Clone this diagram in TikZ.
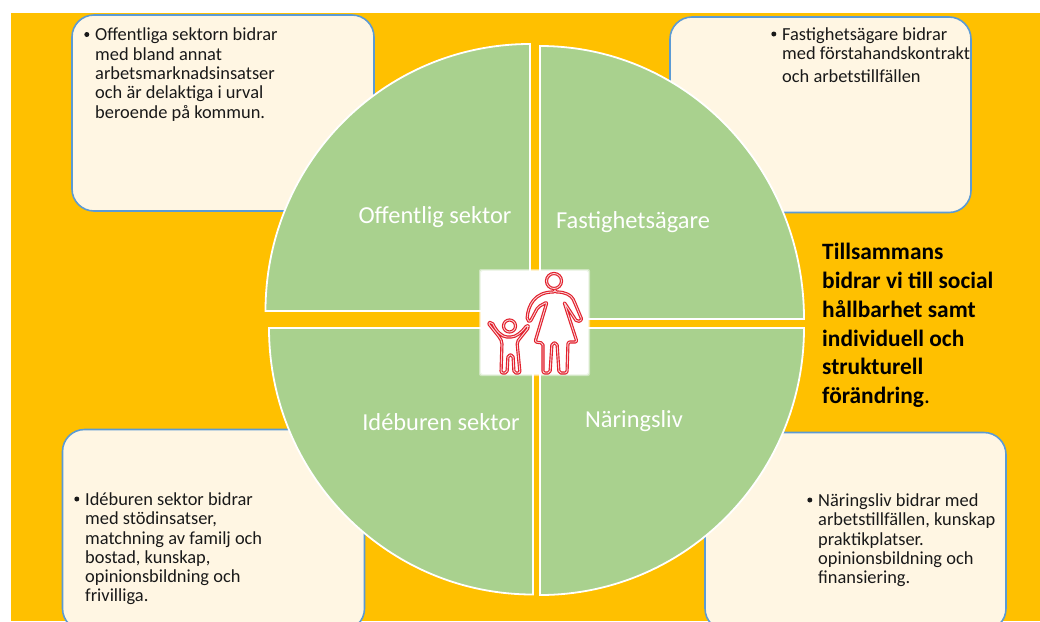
\documentclass[tikz,border=0pt]{standalone}
\usepackage{fontspec}
\setmainfont{Carlito}
\usepackage{xcolor}
\usetikzlibrary{positioning}
\definecolor{bgorange}{HTML}{FFC000}
\definecolor{boxcream}{HTML}{FFF6E3}
\definecolor{boxblue}{HTML}{5B9BD5}
\definecolor{piegreen}{HTML}{A9D18E}
\definecolor{figred}{HTML}{E2202C}

\begin{document}
\begin{tikzpicture}[
  x=1pt, y=-1pt,
  infobox/.style={rectangle, draw=boxblue, line width=1.6pt, fill=boxcream, rounded corners=22pt, anchor=north west, inner sep=0pt, outer sep=0pt},
  quarter/.style={fill=piegreen, draw=white, line width=1.8pt},
  sectorlabel/.style={font=\fontsize{24.4}{29}\selectfont, text=white},
  bodytext/.style={font=\fontsize{18.4}{19.3}\selectfont, text=black!90, align=left, anchor=north west, inner sep=0pt},
  dotmark/.style={circle, fill=black!90, inner sep=0pt, minimum size=5pt},
  figline/.style={draw=figred, line width=3.2pt, line join=round, line cap=round, rounded corners=2pt},
  figinner/.style={draw=white!80!figred, line width=0.9pt, line join=round, line cap=round, rounded corners=2pt}
]
\useasboundingbox (0,0) rectangle (1040,621);

% Background
\path[fill=white] (0,0) rectangle (1040,621);
\path[fill=bgorange] (11,13) rectangle (1040,621);

% Text boxes
\begin{scope}
\clip (0,0) rectangle (1040,621);
\node[infobox, minimum width=302pt, minimum height=196pt] (boxpublic) at (72,15) {};
\node[infobox, minimum width=301pt, minimum height=195.5pt] (boxowner) at (670,17) {};
\node[infobox, minimum width=302pt, minimum height=201pt] (boxcivil) at (62.5,429.5) {};
\node[infobox, minimum width=301pt, minimum height=198pt] (boxbusiness) at (705,432.5) {};
\end{scope}

% Quarter circles
\draw[quarter] (530,311) -- (530,44) .. controls (384,44) and (265.5,163) .. (265.5,311) -- cycle;
\draw[quarter] (540,319) -- (804,319) .. controls (804,168) and (686,46) .. (540,46) -- cycle;
\draw[quarter] (533,328) -- (269,328) .. controls (269,475) and (387,594.5) .. (533,594.5) -- cycle;
\draw[quarter] (540,328) -- (540,595) .. controls (686,595) and (804,475) .. (804,328) -- cycle;

% Sector labels
\node[sectorlabel] (public) at (435,217) {Offentlig sektor};
\node[sectorlabel] (owner) at (633,222) {Fastighetsägare};
\node[sectorlabel] (civil) at (441,422) {Idéburen sektor};
\node[sectorlabel] (business) at (634,421) {Näringsliv};

% Picture in the centre
\foreach \g/\o in {0/0.45, 1/0.65, 2/1}{
  \path[fill=white, fill opacity=\o, rounded corners=2pt] (479+\g,269+\g) rectangle (590-\g,376-\g);
}
\foreach \l in {figline, figinner}{
  % woman
  \draw[\l] (554,281) circle[radius=7.5];
  \draw[\l] (555,292) .. controls (565,292) and (571,295) .. (574,301) -- (582,320) -- (577,322) -- (564,302)
    -- (577,342) -- (568,342) -- (567,373) -- (559,373) -- (557,343) -- (552,343) -- (550,373) -- (543,373) -- (543,343) -- (535,342)
    -- (547,302) -- (538,307) -- (530,322) -- (527,320) .. controls (528,305) and (535,292) .. (555,292) -- cycle;
  % child
  \draw[\l] (509.5,326) circle[radius=6];
  \draw[\l] (488,323) -- (500,338) -- (502,342) -- (501,373) -- (507,373) -- (508,355) -- (513,355) -- (514,373) -- (520,373) -- (517,342)
    -- (529,327) -- (527,325) .. controls (522,332) and (516,337) .. (509,337) .. controls (502,337) and (496,331) .. (492,322) -- cycle;
}

% Side text
\node[font=\fontsize{23.4}{28.8}\selectfont\bfseries, align=left, anchor=north west, inner sep=0pt] (summary) at (822,243) {Tillsammans\\bidrar vi till social\\hållbarhet samt\\individuell och\\strukturell\\förändring\textmd{.}};

% Box texts
\node[bodytext] (textpublic) at (95,28) {Offentliga sektorn bidrar\\med bland annat\\arbetsmarknadsinsatser\\och är delaktiga i urval\\beroende på kommun.};
\node[dotmark, left=5.5pt of textpublic.north west, yshift=-6.5pt] (dotpublic) {};
\node[bodytext] (textowner) at (782,27.5) {Fastighetsägare bidrar\\med förstahandskontrakt\\[3.6pt]och arbetstillfällen};
\node[dotmark, left=5.5pt of textowner.north west, yshift=-6.5pt] (dotowner) {};
\node[bodytext] (textcivil) at (85,492.5) {Idéburen sektor bidrar\\med stödinsatser,\\matchning av familj och\\bostad, kunskap,\\opinionsbildning och\\frivilliga.};
\node[dotmark, left=5.5pt of textcivil.north west, yshift=-6.5pt] (dotcivil) {};
\node[bodytext] (textbusiness) at (818,493.5) {Näringsliv bidrar med\\arbetstillfällen, kunskap\\praktikplatser.\\opinionsbildning och\\finansiering.};
\node[dotmark, left=5.5pt of textbusiness.north west, yshift=-6.5pt] (dotbusiness) {};

\end{tikzpicture}
\end{document}
